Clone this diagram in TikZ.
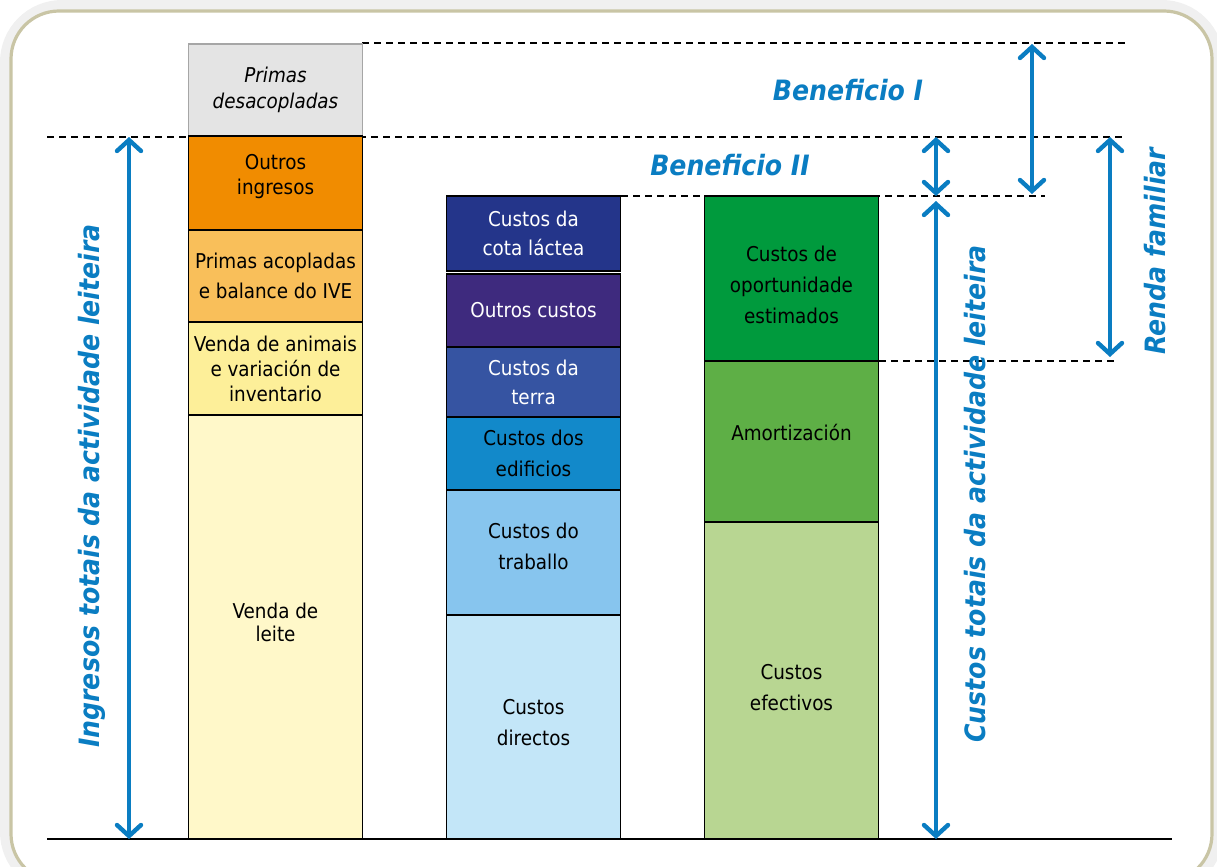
\documentclass[tikz,border=0pt]{standalone}
\usepackage{fontspec}
\setmainfont{DejaVu Sans Condensed}
\usetikzlibrary{arrows.meta}

\definecolor{blau}{HTML}{0A7DC2}
\definecolor{rahmen}{HTML}{C9C5A5}
\definecolor{grau}{HTML}{E4E4E4}
\definecolor{orange1}{HTML}{F18C00}
\definecolor{orange2}{HTML}{F9BF5A}
\definecolor{gelb1}{HTML}{FDEF99}
\definecolor{gelb2}{HTML}{FFF8C9}
\definecolor{blau1}{HTML}{24358A}
\definecolor{lila}{HTML}{3E2A7E}
\definecolor{blau2}{HTML}{3654A2}
\definecolor{blau3}{HTML}{1289CA}
\definecolor{blau4}{HTML}{87C5EE}
\definecolor{blau5}{HTML}{C3E6F8}
\definecolor{gruen1}{HTML}{009A3D}
\definecolor{gruen2}{HTML}{5EAF46}
\definecolor{gruen3}{HTML}{B8D692}

\tikzset{
    feld/.style={draw=black, line width=0.9pt, minimum width=87pt, inner sep=0pt, align=center,
        font=\fontsize{10.2}{14.5}\selectfont},
    feldtext/.style={inner sep=0pt, align=center, font=\fontsize{10.2}{15.5}\selectfont},
    pfeil/.style={draw=blau, line width=2.2pt,
        {Straight Barb[length=5.5pt,width=12pt,line cap=round]}-{Straight Barb[length=5.5pt,width=12pt,line cap=round]}},
    strich/.style={line width=0.55pt, dash pattern=on 3.5pt off 2.5pt},
    titel/.style={text=blau, font=\fontsize{14}{16}\bfseries\itshape\selectfont}
}

\begin{document}
\begin{tikzpicture}[x=0.5pt,y=-0.5pt]
    \useasboundingbox (0,0) rectangle (1217,867);
    \draw[line width=10pt, draw=black!6, rounded corners=26pt] (10,10) rectangle (1214,884);
    \draw[line width=1.6pt, draw=rahmen, fill=white, rounded corners=24pt] (11,11) rectangle (1212,882);

    \path coordinate (d1a) at (362,43) coordinate (d1b) at (1125,43)
        coordinate (d2a) at (47,137) coordinate (d2b) at (1125,137)
        coordinate (d3a) at (621,196) coordinate (d3b) at (1045,196)
        coordinate (d4a) at (879,361) coordinate (d4b) at (1117,361)
        coordinate (g1) at (47,839) coordinate (g2) at (1172,839);
    \draw[strich] (d1a) -- (d1b);
    \draw[strich] (d2a) -- (d2b);
    \draw[strich] (d3a) -- (d3b);
    \draw[strich] (d4a) -- (d4b);

    \path node[feld, draw=black!35, fill=grau, minimum height=46pt, font=\fontsize{10.2}{12.8}\itshape\selectfont] (PD) at (275.5,90) {Primas\\desacopladas}
        node[feld, fill=orange1, minimum height=47pt,
            label={[feldtext, font=\fontsize{10.2}{12.5}\selectfont, yshift=3pt]center:Outros\\ingresos}] (OI) at (275.5,183) {}
        node[feld, fill=orange2, minimum height=46pt, font=\fontsize{10.2}{15}\selectfont] (PA) at (275.5,276) {Primas acopladas\\e balance do IVE}
        node[feld, fill=gelb1, minimum height=46.5pt, font=\fontsize{10.2}{12.5}\selectfont] (VA) at (275.5,368.5) {Venda de animais\\e variación de\\inventario}
        node[feld, fill=gelb2, minimum height=212pt,
            label={[feldtext, font=\fontsize{10.2}{11.5}\selectfont, yshift=2.5pt]center:Venda de\\leite}] (VL) at (275.5,627) {};

    \path node[feld, fill=blau1, text=white, minimum height=37.5pt] (CC) at (533.5,233.5) {Custos da\\cota láctea}
        node[feld, fill=lila, text=white, minimum height=36.5pt] (OC) at (533.5,310.5) {Outros custos}
        node[feld, fill=blau2, text=white, minimum height=35pt] (CT) at (533.5,382) {Custos da\\terra}
        node[feld, fill=blau3, minimum height=36.5pt, font=\fontsize{10.2}{15.5}\selectfont] (CE) at (533.5,453.5) {Custos dos\\edificios}
        node[feld, fill=blau4, minimum height=62.5pt,
            label={[feldtext, yshift=3pt]center:Custos do\\traballo}] (CTR) at (533.5,552.5) {}
        node[feld, fill=blau5, minimum height=112pt,
            label={[feldtext, yshift=2pt]center:Custos\\directos}] (CD) at (533.5,727) {};

    \path node[feld, fill=gruen1, minimum height=82.5pt,
            label={[feldtext, yshift=-3pt]center:Custos de\\oportunidade\\estimados}] (CO) at (791.5,278.5) {}
        node[feld, fill=gruen2, minimum height=80.5pt,
            label={[feldtext, yshift=4.5pt]center:Amortización}] (AM) at (791.5,441.5) {}
        node[feld, fill=gruen3, minimum height=158.5pt,
            label={[feldtext, yshift=-3.5pt]center:Custos\\efectivos}] (CEF) at (791.5,680.5) {};

    \draw[line width=1.2pt] (g1) -- (g2);

    \path coordinate (i1) at (129,137) coordinate (i2) at (129,839)
        coordinate (b2a) at (936,137) coordinate (b2b) at (936,196)
        coordinate (k1) at (936,201) coordinate (k2) at (936,839)
        coordinate (b1a) at (1032,44) coordinate (b1b) at (1032,194)
        coordinate (r1) at (1110,137) coordinate (r2) at (1110,357);
    \draw[pfeil] (i1) -- (i2);
    \draw[pfeil] (b2a) -- (b2b);
    \draw[pfeil] (k1) -- (k2);
    \draw[pfeil] (b1a) -- (b1b);
    \draw[pfeil] (r1) -- (r2);

    \path node[titel, rotate=90] (IT) at (92,486) {Ingresos totais da actividade leiteira}
        node[titel, rotate=90] (CTA) at (975,494) {Custos totais da actividade leiteira}
        node[titel, rotate=90] (RF) at (1155,251) {Renda familiar}
        node[titel] (B1) at (848,90) {Beneficio I}
        node[titel] (B2) at (730,165) {Beneficio II};
\end{tikzpicture}
\end{document}
